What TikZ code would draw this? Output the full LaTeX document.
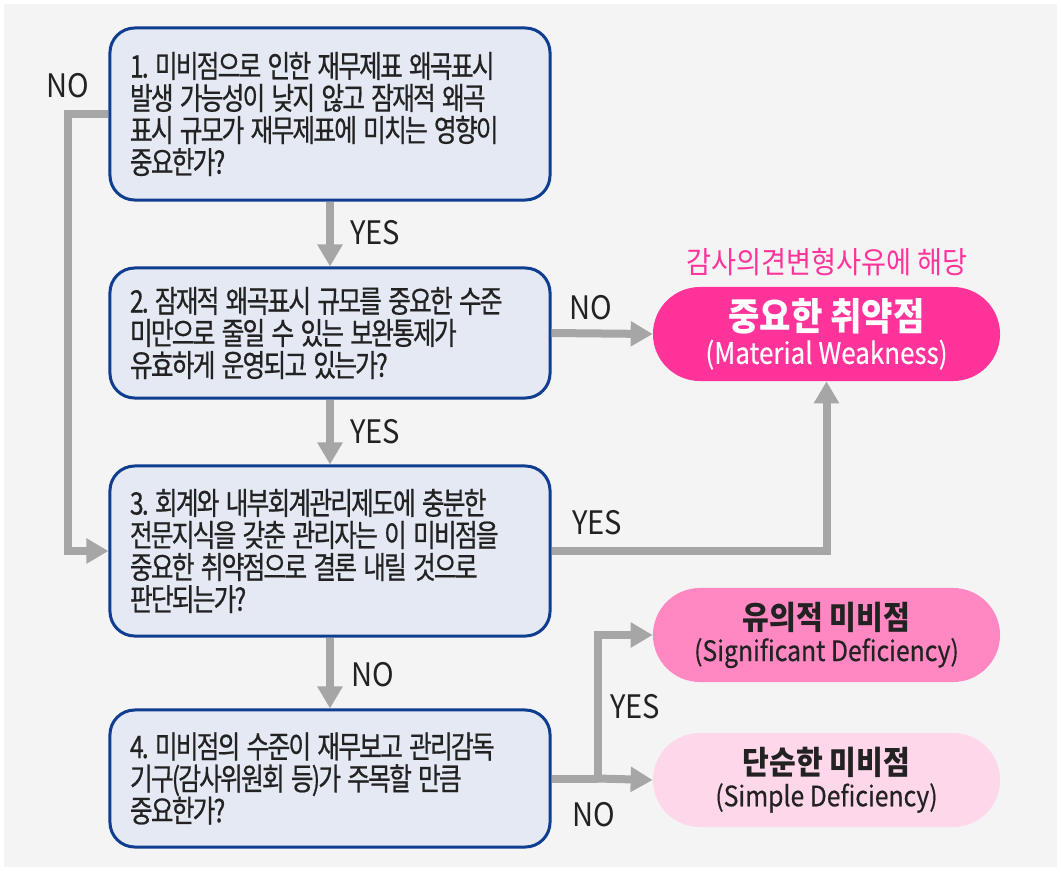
\documentclass[tikz,border=0pt]{standalone}
\usepackage{fontspec}
\setmainfont{Noto Sans CJK KR}[FakeStretch=0.9]
\newfontfamily\qfont{Noto Sans CJK KR}[FakeStretch=0.8, LetterSpace=-6, FakeBold=0.6]
\newfontfamily\sfont{Noto Sans CJK KR}[FakeStretch=0.88, FakeBold=0.4]
\newcommand\qtext{\qfont\fontsize{22}{22.8}\selectfont}
\newcommand\wsp{\hspace{0.2em}}
\usetikzlibrary{arrows.meta,shapes.misc}

\definecolor{boxfill}{HTML}{E4E9F3}
\definecolor{boxline}{HTML}{0F3D8F}
\definecolor{arrowgray}{HTML}{A6A6A6}
\definecolor{bggray}{HTML}{F4F4F4}
\definecolor{mwpink}{HTML}{FF3399}
\definecolor{sdpink}{HTML}{FF88C2}
\definecolor{simpink}{HTML}{FFD7EB}
\definecolor{txtdark}{HTML}{222222}

\begin{document}
\begin{tikzpicture}[x=0.025cm, y=-0.025cm,
   question/.style={draw=boxline, line width=0.075cm, fill=boxfill, rounded corners=0.62cm,
      text width=10cm, inner xsep=0.5cm, inner ysep=0pt, align=left, text=txtdark,
      font=\qtext},
   result/.style={rounded rectangle, minimum width=8.675cm, minimum height=2.35cm,
      inner sep=0pt, align=center, text=txtdark},
   answer/.style={text=txtdark, inner sep=0pt, font=\fontsize{23}{23}\selectfont},
   flow/.style={draw=arrowgray, line width=0.2cm, -{Triangle[length=0.55cm,width=0.6cm]}},
   track/.style={draw=arrowgray, line width=0.2cm}]

   % backdrop
   \useasboundingbox (0,0) rectangle (1061,871);
   \fill[white] (0,0) rectangle (1061,871);
   \fill[bggray] (4,4) rectangle (1057,867);

   % questions
   \node[question, minimum height=4.3cm] (q1) at (330,114)
      {1.\wsp{}미비점으로\wsp{}인한\wsp{}재무제표\wsp{}왜곡표시\\발생\wsp{}가능성이\wsp{}낮지\wsp{}않고\wsp{}잠재적\wsp{}왜곡\\표시\wsp{}규모가\wsp{}재무제표에\wsp{}미치는\wsp{}영향이\\중요한가?};
   \node[question, minimum height=3.25cm] (q2) at (330,333)
      {2.\wsp{}잠재적\wsp{}왜곡표시\wsp{}규모를\wsp{}중요한\wsp{}수준\\미만으로\wsp{}줄일\wsp{}수\wsp{}있는\wsp{}보완통제가\\유효하게\wsp{}운영되고\wsp{}있는가?};
   \node[question, minimum height=4.25cm] (q3) at (330,551)
      {3.\wsp{}회계와\wsp{}내부회계관리제도에\wsp{}충분한\\전문지식을\wsp{}갖춘\wsp{}관리자는\wsp{}이\wsp{}미비점을\\중요한\wsp{}취약점으로\wsp{}결론\wsp{}내릴\wsp{}것으로\\판단되는가?};
   \node[question, minimum height=3.425cm] (q4) at (330,778.5)
      {4.\wsp{}미비점의\wsp{}수준이\wsp{}재무보고\wsp{}관리감독\\기구(감사위원회\wsp{}등)가\wsp{}주목할\wsp{}만큼\\중요한가?};

   % outcomes
   \node[result, fill=mwpink, text=white] (mw) at (826.5,334)
      {{\fontsize{27}{27}\selectfont\bfseries 중요한 취약점}\\[3pt]{\sfont\fontsize{21}{21}\selectfont (Material Weakness)}};
   \node[text=mwpink, inner sep=0pt, font=\fontsize{21.5}{21.5}\selectfont] (opinion) at (827,262) {감사의견변형사유에 해당};
   \node[result, fill=sdpink] (sd) at (826.5,635)
      {{\fontsize{23}{23}\selectfont\bfseries 유의적 미비점}\\[3pt]{\sfont\fontsize{20}{20}\selectfont (Significant Deficiency)}};
   \node[result, fill=simpink] (sim) at (826.5,780)
      {{\fontsize{23}{23}\selectfont\bfseries 단순한 미비점}\\[3pt]{\sfont\fontsize{20}{20}\selectfont (Simple Deficiency)}};

   % connectors
   \coordinate (lp) at (68,330);
   \coordinate (sp) at (598,778.5);
   \draw[flow] (q1) -- (q2);
   \draw[flow] (q2) -- (q3);
   \draw[flow] (q3) -- (q4);
   \draw[flow] (q1.west) -| (lp) |- (q3.west);
   \draw[flow] (q2.east) -- (mw.west);
   \draw[flow] (q3.east) -| (mw.south);
   \draw[track] (q4.east) -- (sp);
   \draw[flow] (sp) |- (sd.west);
   \draw[flow] (sp) -- (sim.west);

   % answers
   \node[answer] (a1) at (68,86) {NO};
   \node[answer] (a2) at (375,233) {YES};
   \node[answer] (a3) at (591,308) {NO};
   \node[answer] (a4) at (375,432) {YES};
   \node[answer] (a5) at (597,523) {YES};
   \node[answer] (a6) at (373,675) {NO};
   \node[answer] (a7) at (635,707) {YES};
   \node[answer] (a8) at (594,815) {NO};
\end{tikzpicture}
\end{document}
